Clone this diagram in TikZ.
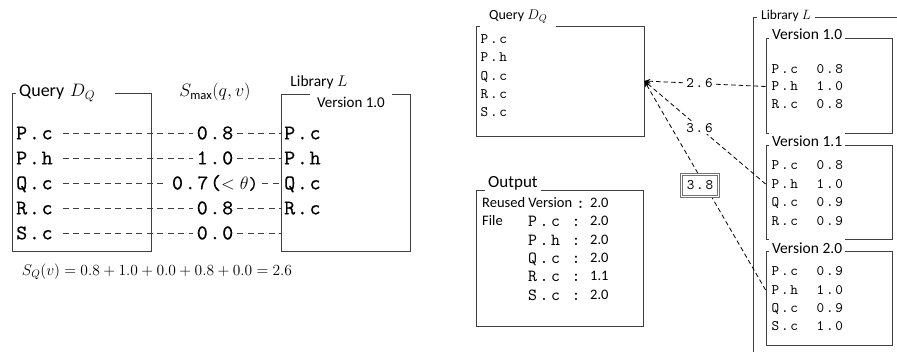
\documentclass[tikz,border=0pt]{standalone}
\usepackage{fix-cm}
\usepackage{fontspec}
\setmainfont{Carlito}
\newfontfamily\monoL{lmmono10-regular.otf}[LetterSpace=8, FakeBold=0.12]
\newfontfamily\monoR{lmmono10-regular.otf}[LetterSpace=12]
\newfontfamily\monoO{lmmono10-regular.otf}[LetterSpace=15]
\usetikzlibrary{arrows.meta}

\begin{document}
\begin{tikzpicture}[x=1pt,y=-1pt,
  frame/.style={draw=black!75, line width=0.8pt, inner sep=0pt},
  legend/.style={fill=white, inner xsep=3pt, inner ysep=4pt},
  fsL/.style={font=\fontsize{18}{21}\selectfont},
  ttL/.style={font=\fontsize{21}{24}\monoL, inner sep=2pt, text height=12.8pt, text depth=0pt},
  ttR/.style={font=\fontsize{14.5}{17}\monoR, inner sep=1.5pt, text height=8.9pt, text depth=0pt},
  ttO/.style={font=\fontsize{17}{20}\monoO, inner sep=1pt, text height=10.4pt, text depth=0pt},
  sfO/.style={font=\fontsize{14.5}{18}\selectfont, inner sep=1pt, text height=9.4pt, text depth=0pt},
  link/.style={draw=black!75, line width=0.6pt, dash pattern=on 6pt off 4.5pt},
  rlink/.style={draw=black, line width=0.8pt, dash pattern=on 4.5pt off 3pt},
  tip/.style={-{Stealth[length=6pt,width=4.5pt]}},
]
\useasboundingbox (0,0) rectangle (897,352);

% ---------------- left: query vs. one library version ----------------
\node[frame, minimum width=139pt, minimum height=158pt] (qL) at (81.5,172) {};
\node[legend, fsL, anchor=west, text width=93pt, inner ysep=3pt] (qLt) at (16,93) {Query $D_Q$};

\node[frame, minimum width=129pt, minimum height=157pt] (lib) at (345.5,172.5) {};
\node[font=\fontsize{15.5}{19}\selectfont] (libt) at (319,82) {Library $L$};
\node[legend, font=\fontsize{15}{18}\selectfont, inner xsep=7pt] (libv) at (351,102) {Version 1.0};

\node[fsL] (smax) at (215,92) {$S_{\max}(q,v)$};

\foreach \n/\t/\y in {a/P.c/133, b/P.h/158, c/Q.c/183, d/R.c/208, e/S.c/233}
  \node[ttL, anchor=west] (q\n) at (14,\y) {\t};
\foreach \n/\t/\y in {a/P.c/133, b/P.h/158, c/Q.c/183, d/R.c/208}
  \node[ttL, anchor=west] (l\n) at (282,\y) {\t};

\node[ttL, inner xsep=4pt] (sa) at (215,133) {0.8};
\node[ttL, inner xsep=4pt] (sb) at (215,158) {1.0};
\node[ttL, inner xsep=4pt] (sc) at (215,183) {0.7(\fontsize{18}{21}\selectfont$<\theta$)};
\node[ttL, inner xsep=4pt] (sd) at (215,208) {0.8};
\node[ttL, inner xsep=4pt] (se) at (215,233) {0.0};

\foreach \n in {a,b,c,d,e}
  \draw[link, shorten <=8pt] (q\n.east) -- (s\n.west);
\foreach \n in {a,b,c,d}
  \draw[link] (s\n.east) -- (l\n.west);
\draw[link] (se.east) -- (lib.west |- se);

\node[font=\fontsize{15.5}{19}\selectfont] (sq) at (157,272) {$S_Q(v) = 0.8 + 1.0 + 0.0 + 0.8 + 0.0 = 2.6$};

% ---------------- right: query ----------------
\node[frame, minimum width=168pt, minimum height=110pt] (qR) at (560,81) {};
\node[legend, font=\fontsize{14}{17}\selectfont, anchor=west, inner xsep=9pt] (qRt) at (480,17) {Query $D_Q$};
\foreach \t [count=\i] in {P.c,P.h,Q.c,R.c,S.c}
  \node[ttR, anchor=west] (qr\i) at (479,{39+18.3*(\i-1)}) {\t};

% ---------------- right: library with versions ----------------
\draw[frame] (897,17) -- (753,17) -- (753,352);
\node[legend, font=\fontsize{13.5}{16}\selectfont, anchor=west, inner xsep=4pt] (libRt) at (757,16) {Library $L$};

\node[frame, minimum width=126pt, minimum height=95pt] (v10) at (829,85.5) {};
\node[legend, font=\fontsize{15.5}{18}\selectfont, anchor=west, inner xsep=3pt] (v10t) at (769,34) {Version 1.0};
\node[ttR, anchor=west] (v10a) at (770,69) {P.c\ \ 0.8};
\node[ttR, anchor=west] (v10b) at (770,86.5) {P.h\ \ 1.0};
\node[ttR, anchor=west] (v10c) at (770,104) {R.c\ \ 0.8};

\node[frame, minimum width=126pt, minimum height=94pt] (v11) at (829,192) {};
\node[legend, font=\fontsize{15.5}{18}\selectfont, anchor=west, inner xsep=3pt] (v11t) at (769,141.5) {Version 1.1};
\node[ttR, anchor=west] (v11a) at (770,165) {P.c\ \ 0.8};
\node[ttR, anchor=west] (v11b) at (770,184) {P.h\ \ 1.0};
\node[ttR, anchor=west] (v11c) at (770,202) {Q.c\ \ 0.9};
\node[ttR, anchor=west] (v11d) at (770,221) {R.c\ \ 0.9};

\node[frame, minimum width=126pt, minimum height=94pt] (v20) at (829,298) {};
\node[legend, font=\fontsize{15.5}{18}\selectfont, anchor=west, inner xsep=3pt] (v20t) at (769,248.5) {Version 2.0};
\node[ttR, anchor=west] (v20a) at (770,271) {P.c\ \ 0.9};
\node[ttR, anchor=west] (v20b) at (770,290) {P.h\ \ 1.0};
\node[ttR, anchor=west] (v20c) at (770,308) {Q.c\ \ 0.9};
\node[ttR, anchor=west] (v20d) at (770,326) {S.c\ \ 1.0};

% version scores, pointing back to the query
\draw[rlink, tip] (v10.west |- v10b) -- node[ttR, fill=white, pos=0.545, inner xsep=3pt] (m26) {2.6} (qR.east);
\draw[rlink, tip] (v11.west |- v11b) -- node[ttR, fill=white, pos=0.545, inner xsep=3pt] (m36) {3.6} (qR.east);
\draw[rlink, tip] (v20.west |- v20b) -- node[ttR, fill=white, pos=0.5, xshift=-5pt, draw=black!55, double=white,
  double distance=1pt, line width=0.7pt, solid, minimum width=37pt, minimum height=22pt] (m38) {3.8} (qR.east);

% ---------------- right: output ----------------
\node[frame, minimum width=167pt, minimum height=136pt] (out) at (559.5,258) {};
\node[legend, font=\fontsize{17}{20}\selectfont, anchor=west, inner xsep=3pt] (outt) at (485,183) {Output};
\node[sfO, anchor=west] (orv) at (481,203) {Reused Version};
\node[ttO, anchor=west] (orc) at (575,203) {:};
\node[sfO, anchor=west] (orn) at (589,203) {2.0};
\node[sfO, anchor=west] (ofile) at (481,221) {File};
\foreach \t/\v/\y [count=\i] in {P.c/2.0/221, P.h/2.0/240, Q.c/2.0/258, R.c/1.1/276, S.c/2.0/295}{
  \node[ttO, anchor=west] (of\i) at (527,\y) {\t\ :};
  \node[sfO, anchor=west] (ov\i) at (589,\y) {\v};
}
\end{tikzpicture}
\end{document}
